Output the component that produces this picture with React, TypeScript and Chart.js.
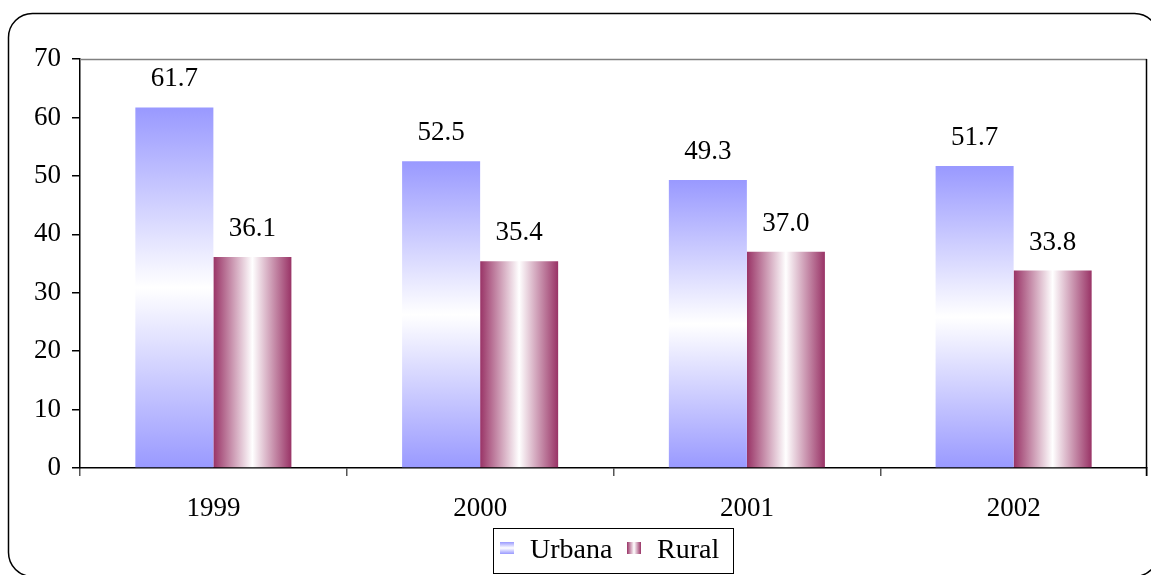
import React, { useEffect, useRef } from "react";
import { Chart, registerables } from "chart.js";
Chart.register(...registerables);

const categories = ["1999", "2000", "2001", "2002"];
const seriesNames = ["Urbana", "Rural"];
const urbana = [61.7, 52.5, 49.3, 51.7];
const rural = [36.1, 35.4, 37.0, 33.8];
const yMin = 0;
const yMax = 70;
const yStep = 10;

const BLUE = "#9999FF";
const MAROON = "#993366";
const FONT = "'Liberation Serif', 'Times New Roman', serif";
const CAT_PCT = 0.585;

function vGrad(c: CanvasRenderingContext2D, top: number, bottom: number) {
  const g = c.createLinearGradient(0, top, 0, bottom);
  g.addColorStop(0, BLUE);
  g.addColorStop(0.5, "#ffffff");
  g.addColorStop(1, BLUE);
  return g;
}
function hGrad(c: CanvasRenderingContext2D, left: number, right: number) {
  const g = c.createLinearGradient(left, 0, right, 0);
  g.addColorStop(0, MAROON);
  g.addColorStop(0.5, "#ffffff");
  g.addColorStop(1, MAROON);
  return g;
}

const urbanaFill = (ctx: any) => {
  const chart = ctx.chart;
  if (!chart.chartArea || ctx.type !== "data" || !chart.scales.y) return BLUE;
  const ys = chart.scales.y;
  const top = ys.getPixelForValue(urbana[ctx.dataIndex]);
  const bottom = ys.getPixelForValue(0);
  return vGrad(chart.ctx, top, bottom);
};

const ruralFill = (ctx: any) => {
  const chart = ctx.chart;
  if (!chart.chartArea || ctx.type !== "data" || !chart.scales.x) return MAROON;
  const xs = chart.scales.x;
  const cx = xs.getPixelForValue(ctx.dataIndex);
  const w = (xs.width / categories.length) * CAT_PCT / 2;
  return hGrad(chart.ctx, cx, cx + w);
};

const decorPlugin = {
  id: "decor",
  beforeDraw(chart: any) {
    const c = chart.ctx;
    c.save();
    c.fillStyle = "#ffffff";
    c.fillRect(0, 0, chart.width, chart.height);
    c.strokeStyle = "#000";
    c.lineWidth = 1.5;
    c.beginPath();
    (c as any).roundRect(8.5, 13.5, 1150, 563, 24);
    c.stroke();
    c.restore();
  },
  afterDraw(chart: any) {
    const c = chart.ctx;
    const a = chart.chartArea;
    c.save();
    // plot frame top (gray) and right (black)
    c.lineWidth = 1.5;
    c.strokeStyle = "#808080";
    c.beginPath();
    c.moveTo(a.left, a.top + 0.5);
    c.lineTo(a.right, a.top + 0.5);
    c.stroke();
    c.strokeStyle = "#000";
    c.beginPath();
    c.moveTo(a.right - 0.5, a.top);
    c.lineTo(a.right - 0.5, a.bottom + 8);
    c.stroke();

    // data labels
    c.fillStyle = "#000";
    c.font = `27px ${FONT}`;
    c.textAlign = "center";
    c.textBaseline = "alphabetic";
    const sets = [urbana, rural];
    sets.forEach((vals, di) => {
      const meta = chart.getDatasetMeta(di);
      meta.data.forEach((el: any, i: number) => {
        c.fillText(vals[i].toFixed(1), el.x, el.y - 21);
      });
    });

    // legend
    const lx = 493.5, ly = 528.5, lw = 240, lh = 45;
    c.fillStyle = "#fff";
    c.fillRect(lx, ly, lw, lh);
    c.strokeStyle = "#000";
    c.lineWidth = 1;
    c.strokeRect(lx, ly, lw, lh);
    c.fillStyle = vGrad(c, 542, 554);
    c.fillRect(500, 542, 14, 12);
    c.fillStyle = hGrad(c, 627, 641);
    c.fillRect(627, 542, 14, 12);
    c.fillStyle = "#000";
    c.font = `28px ${FONT}`;
    c.textAlign = "left";
    c.fillText(seriesNames[0], 530, 558);
    c.fillText(seriesNames[1], 657, 558);
    c.restore();
  },
};

export default function App() {
  const ref = useRef<HTMLCanvasElement>(null);
  useEffect(() => {
    if (!ref.current) return;
    const chart = new Chart(ref.current, {
      type: "bar",
      data: {
        labels: categories,
        datasets: [
          {
            label: seriesNames[0],
            data: urbana,
            backgroundColor: urbanaFill,
            borderWidth: 0,
            categoryPercentage: CAT_PCT,
            barPercentage: 1,
          },
          {
            label: seriesNames[1],
            data: rural,
            backgroundColor: ruralFill,
            borderWidth: 0,
            categoryPercentage: CAT_PCT,
            barPercentage: 1,
          },
        ],
      },
      options: {
        responsive: false,
        animation: false,
        devicePixelRatio: 1,
        layout: { padding: { top: 59, right: 4, left: 0, bottom: 0 } },
        plugins: { legend: { display: false }, tooltip: { enabled: false } },
        scales: {
          x: {
            type: "category",
            offset: true,
            afterFit: (s: any) => {
              s.height = 107;
            },
            grid: {
              offset: true,
              drawOnChartArea: false,
              drawTicks: true,
              tickLength: 8,
              color: "#555",
              lineWidth: 1.5,
            },
            border: { color: "#000", width: 1.5 },
            ticks: {
              color: "#000",
              font: { family: FONT, size: 27 },
              padding: 17,
            },
          },
          y: {
            min: yMin,
            max: yMax,
            afterFit: (s: any) => {
              s.width = 80;
            },
            grid: {
              drawOnChartArea: false,
              drawTicks: true,
              tickLength: 8,
              color: "#000",
              lineWidth: 1.5,
            },
            border: { color: "#000", width: 1.5 },
            ticks: {
              stepSize: yStep,
              color: "#000",
              font: { family: FONT, size: 27 },
              padding: 11,
            },
          },
        },
      },
      plugins: [decorPlugin],
    });
    return () => chart.destroy();
  }, []);
  return (
    <div style={{ position: "absolute", left: 0, top: 0, width: 1151, height: 575 }}>
      <canvas ref={ref} width={1151} height={575} style={{ width: 1151, height: 575, display: "block" }} />
    </div>
  );
}
